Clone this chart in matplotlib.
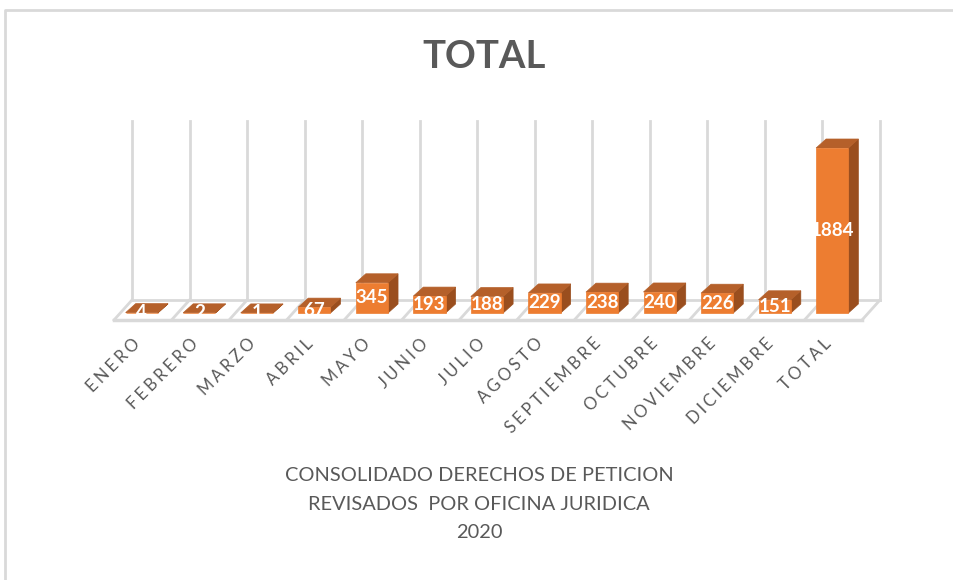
import numpy as np
import matplotlib.pyplot as plt
from matplotlib.patches import Polygon
from matplotlib.lines import Line2D
import matplotlib.transforms as mtransforms

# data
months = ["ENERO", "FEBRERO", "MARZO", "ABRIL", "MAYO", "JUNIO", "JULIO",
          "AGOSTO", "SEPTIEMBRE", "OCTUBRE", "NOVIEMBRE", "DICIEMBRE", "TOTAL"]
values = [4, 2, 1, 67, 345, 193, 188, 229, 238, 240, 226, 151, 1884]
chart_title = "TOTAL"
subtitle = "CONSOLIDADO DERECHOS DE PETICION\nREVISADOS  POR OFICINA JURIDICA\n2020"

FRONT = "#ED7D31"
TOP = "#B5602A"
SIDE = "#9A4E1E"
GRID = "#D9D9D9"
TEXT = "#595959"
FONT = ["Lato", "DejaVu Sans"]

W, H = 954, 580
fig = plt.figure(figsize=(W / 100, H / 100), dpi=100)
fig.patch.set_facecolor("white")

# front plane of the bars (1884 -> 165 px tall)
ymax = 2040
ax = fig.add_axes([113 / W, (H - 313) / H, 748 / W, 165 / 1884 * ymax / H])
ax.set_xlim(-0.5, len(months) - 0.5)
ax.set_ylim(0, ymax)
ax.axis("off")

ident = mtransforms.IdentityTransform()
px = fig.dpi / 100.0


def pt(x, y, depth=(0, 0)):
    """data point -> display coords, pushed back by a (dx, dy) pixel depth offset"""
    X, Y = ax.transData.transform((x, y))
    return (X + depth[0] * px, Y + depth[1] * px)


def seg(p, q, lw=2):
    ax.add_line(Line2D([p[0], q[0]], [p[1], q[1]], transform=ident, color=GRID,
                       lw=lw, zorder=1, clip_on=False))


FLOOR_FRONT = (1, -7)
WALL = (19, 13)
BAR_DEPTH = (10, 9)
bounds = np.arange(len(months) + 1) - 0.5

# back wall gridlines + floor
for b in bounds:
    seg(pt(b, 0, WALL), pt(b, ymax, WALL))
    seg(pt(b, 0, FLOOR_FRONT), pt(b, 0, WALL))
seg(pt(bounds[0], 0, WALL), pt(bounds[-1], 0, WALL))
seg(pt(bounds[0], 0, FLOOR_FRONT), pt(bounds[-1], 0, FLOOR_FRONT), lw=2.5)

# 3d-looking columns
bw = 0.56
for i, v in enumerate(values):
    x0, x1 = i - bw / 2, i + bw / 2
    front = [pt(x0, 0), pt(x1, 0), pt(x1, v), pt(x0, v)]
    top = [pt(x0, v), pt(x1, v), pt(x1, v, BAR_DEPTH), pt(x0, v, BAR_DEPTH)]
    side = [pt(x1, 0), pt(x1, 0, BAR_DEPTH), pt(x1, v, BAR_DEPTH), pt(x1, v)]
    for face, col, z in [(side, SIDE, 3), (top, TOP, 3), (front, FRONT, 4)]:
        ax.add_patch(Polygon(face, closed=True, transform=ident, fc=col, ec=col,
                             lw=0.5, zorder=z, clip_on=False))
    ax.text(i, v / 2, str(v), ha="center", va="center", color="white",
            fontsize=13.5, fontweight="bold", family=FONT, zorder=6)

# rotated category labels, letter-spaced like the original
for i, m in enumerate(months):
    X, Y = pt(i, 0)
    ax.text(X - 4 * px, Y - 28 * px, "\u2009\u200a".join(m), transform=ident,
            rotation=45, rotation_mode="anchor", ha="right", va="center",
            color=TEXT, fontsize=12, family=FONT)

fig.text(484 / W, 1 - 57 / H, chart_title, ha="center", va="center", color=TEXT,
         fontsize=27.5, fontweight="bold", family=FONT)
fig.text(479 / W, 1 - 504 / H, subtitle, ha="center", va="center", color=TEXT,
         fontsize=14.4, linespacing=1.8, family=FONT)

# chart frame (only top and left edges are inside the picture)
fig.add_artist(Line2D([5.5 / W, 5.5 / W, 1], [0, 1 - 10 / H, 1 - 10 / H],
                      transform=fig.transFigure, color=GRID, lw=2))

fig.savefig("out.png", dpi=100, facecolor="white")
